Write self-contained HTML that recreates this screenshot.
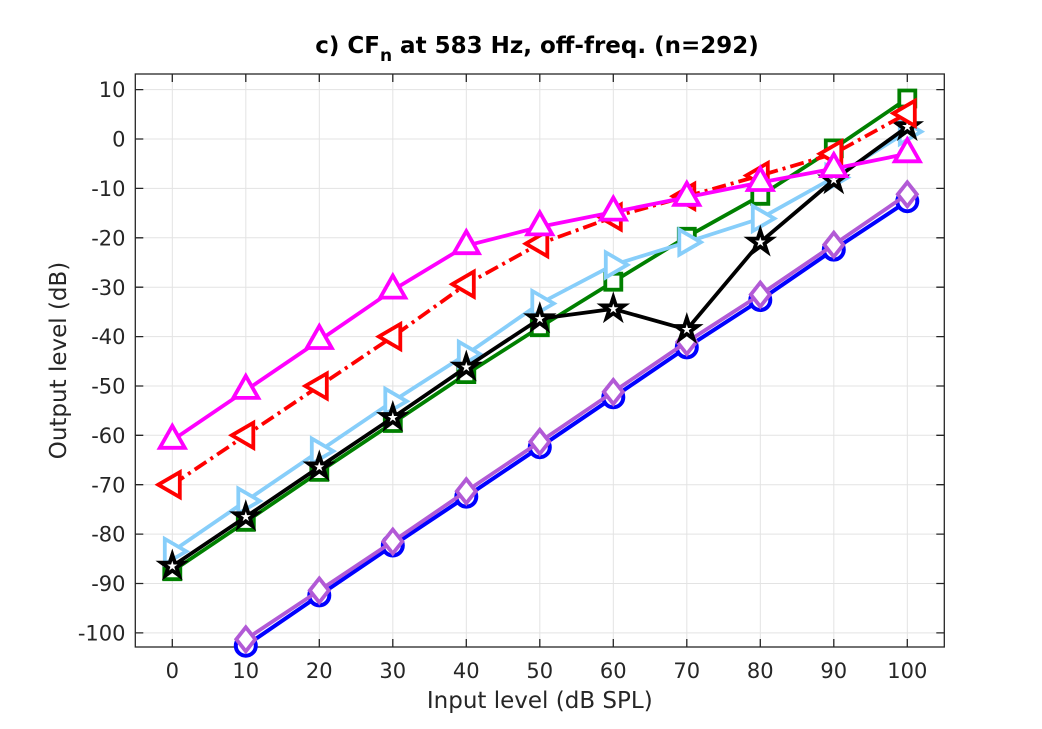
<!DOCTYPE html>
<html>
<head>
<meta charset="utf-8">
<style>
html,body{margin:0;padding:0;background:#fff;}
svg{display:block;}
text{font-family:"DejaVu Sans","Liberation Sans",sans-serif;fill:#262626;}
</style>
</head>
<body>
<svg width="1042" height="729" viewBox="0 0 1042 729" xmlns="http://www.w3.org/2000/svg">
<defs>
  <circle id="mc" r="10" fill="#fff" stroke="#0000ff" stroke-width="4"/>
  <path id="md" d="M0,-12 L9.5,0 L0,12 L-9.5,0Z" fill="#fff" stroke="#b25ad6" stroke-width="3.8"/>
  <path id="ms" d="M-8,-8h16v16h-16z" fill="#fff" stroke="#008000" stroke-width="3.8"/>
  <path id="mr" d="M14,0 L-7.5,-12.5 L-7.5,12.5Z" fill="#fff" stroke="#87cefa" stroke-width="3.8"/>
  <path id="mp" d="M0,-11.5 L2.582,-3.554 L10.937,-3.554 L4.178,1.357 L6.760,9.304 L0,4.393 L-6.760,9.304 L-4.178,1.357 L-10.937,-3.554 L-2.582,-3.554Z" fill="#fff" stroke="#000" stroke-width="3.8"/>
  <path id="ml" d="M-14,0 L7.5,-12.5 L7.5,12.5Z" fill="#fff" stroke="#ff0000" stroke-width="3.8"/>
  <path id="mu" d="M0,-14.5 L12.5,7.5 L-12.5,7.5Z" fill="#fff" stroke="#ff00ff" stroke-width="3.8"/>
</defs>

<!-- grid -->
<g stroke="#e3e3e3" stroke-width="1">
  <line x1="172.3" y1="74" x2="172.3" y2="647"/>
  <line x1="245.8" y1="74" x2="245.8" y2="647"/>
  <line x1="319.3" y1="74" x2="319.3" y2="647"/>
  <line x1="392.8" y1="74" x2="392.8" y2="647"/>
  <line x1="466.3" y1="74" x2="466.3" y2="647"/>
  <line x1="539.8" y1="74" x2="539.8" y2="647"/>
  <line x1="613.3" y1="74" x2="613.3" y2="647"/>
  <line x1="686.8" y1="74" x2="686.8" y2="647"/>
  <line x1="760.3" y1="74" x2="760.3" y2="647"/>
  <line x1="833.8" y1="74" x2="833.8" y2="647"/>
  <line x1="907.3" y1="74" x2="907.3" y2="647"/>
  <line x1="135.3" y1="89.6" x2="944.3" y2="89.6"/>
  <line x1="135.3" y1="139" x2="944.3" y2="139"/>
  <line x1="135.3" y1="188.4" x2="944.3" y2="188.4"/>
  <line x1="135.3" y1="237.8" x2="944.3" y2="237.8"/>
  <line x1="135.3" y1="287.2" x2="944.3" y2="287.2"/>
  <line x1="135.3" y1="336.6" x2="944.3" y2="336.6"/>
  <line x1="135.3" y1="386" x2="944.3" y2="386"/>
  <line x1="135.3" y1="435.3" x2="944.3" y2="435.3"/>
  <line x1="135.3" y1="484.7" x2="944.3" y2="484.7"/>
  <line x1="135.3" y1="534.1" x2="944.3" y2="534.1"/>
  <line x1="135.3" y1="583.5" x2="944.3" y2="583.5"/>
  <line x1="135.3" y1="632.9" x2="944.3" y2="632.9"/>
</g>

<!-- axes box and ticks -->
<g stroke="#262626" stroke-width="1.3" fill="none">
  <rect x="135.3" y="74" width="809" height="573"/>
  <path d="M172.3,647v-8 M245.8,647v-8 M319.3,647v-8 M392.8,647v-8 M466.3,647v-8 M539.8,647v-8 M613.3,647v-8 M686.8,647v-8 M760.3,647v-8 M833.8,647v-8 M907.3,647v-8
           M172.3,74v8 M245.8,74v8 M319.3,74v8 M392.8,74v8 M466.3,74v8 M539.8,74v8 M613.3,74v8 M686.8,74v8 M760.3,74v8 M833.8,74v8 M907.3,74v8
           M135.3,89.6h8 M135.3,139h8 M135.3,188.4h8 M135.3,237.8h8 M135.3,287.2h8 M135.3,336.6h8 M135.3,386h8 M135.3,435.3h8 M135.3,484.7h8 M135.3,534.1h8 M135.3,583.5h8 M135.3,632.9h8
           M944.3,89.6h-8 M944.3,139h-8 M944.3,188.4h-8 M944.3,237.8h-8 M944.3,287.2h-8 M944.3,336.6h-8 M944.3,386h-8 M944.3,435.3h-8 M944.3,484.7h-8 M944.3,534.1h-8 M944.3,583.5h-8 M944.3,632.9h-8"/>
</g>

<!-- tick labels -->
<g font-size="21" text-anchor="middle">
  <text x="172.3" y="678">0</text>
  <text x="245.8" y="678">10</text>
  <text x="319.3" y="678">20</text>
  <text x="392.8" y="678">30</text>
  <text x="466.3" y="678">40</text>
  <text x="539.8" y="678">50</text>
  <text x="613.3" y="678">60</text>
  <text x="686.8" y="678">70</text>
  <text x="760.3" y="678">80</text>
  <text x="833.8" y="678">90</text>
  <text x="907.3" y="678">100</text>
</g>
<g font-size="21" text-anchor="end">
  <text x="125.5" y="97.2">10</text>
  <text x="125.5" y="146.6">0</text>
  <text x="125.5" y="196">-10</text>
  <text x="125.5" y="245.4">-20</text>
  <text x="125.5" y="294.8">-30</text>
  <text x="125.5" y="344.2">-40</text>
  <text x="125.5" y="393.6">-50</text>
  <text x="125.5" y="442.9">-60</text>
  <text x="125.5" y="492.3">-70</text>
  <text x="125.5" y="541.7">-80</text>
  <text x="125.5" y="591.1">-90</text>
  <text x="125.5" y="640.5">-100</text>
</g>

<!-- axis labels -->
<text x="539.8" y="708" font-size="23" text-anchor="middle">Input level (dB SPL)</text>
<text transform="translate(66,360.5) rotate(-90)" font-size="23" text-anchor="middle">Output level (dB)</text>

<!-- title -->
<text x="537" y="53" font-size="23" font-weight="bold" text-anchor="middle" style="fill:#000">c) CF<tspan font-size="17" dy="8">n</tspan><tspan dy="-8"> at 583 Hz, off-freq. (n=292)</tspan></text>

<!-- series: blue circles -->
<polyline fill="none" stroke="#0000ff" stroke-width="4" stroke-linejoin="round"
  points="245.8,645.7 319.3,595.4 392.8,545.5 466.3,496.6 539.8,447.2 613.3,397.3 686.8,347.4 760.3,300 833.8,249.6 907.3,201.2"/>
<use href="#mc" x="245.8" y="645.7"/><use href="#mc" x="319.3" y="595.4"/><use href="#mc" x="392.8" y="545.5"/>
<use href="#mc" x="466.3" y="496.6"/><use href="#mc" x="539.8" y="447.2"/><use href="#mc" x="613.3" y="397.3"/>
<use href="#mc" x="686.8" y="347.4"/><use href="#mc" x="760.3" y="300"/><use href="#mc" x="833.8" y="249.6"/>
<use href="#mc" x="907.3" y="201.2"/>

<!-- purple diamonds -->
<polyline fill="none" stroke="#b25ad6" stroke-width="3.8" stroke-linejoin="round"
  points="245.8,639.3 319.3,590.4 392.8,541.5 466.3,491.2 539.8,441.8 613.3,391.9 686.8,342 760.3,294.6 833.8,244.7 907.3,194.3"/>
<use href="#md" x="245.8" y="639.3"/><use href="#md" x="319.3" y="590.4"/><use href="#md" x="392.8" y="541.5"/>
<use href="#md" x="466.3" y="491.2"/><use href="#md" x="539.8" y="441.8"/><use href="#md" x="613.3" y="391.9"/>
<use href="#md" x="686.8" y="342"/><use href="#md" x="760.3" y="294.6"/><use href="#md" x="833.8" y="244.7"/>
<use href="#md" x="907.3" y="194.3"/>

<!-- green squares -->
<polyline fill="none" stroke="#008000" stroke-width="3.8" stroke-linejoin="round"
  points="172.3,571.2 245.8,521.8 319.3,471.9 392.8,423 466.3,374.1 539.8,327.2 613.3,281.7 686.8,236.8 760.3,195.8 833.8,148.4 907.3,98.5"/>
<use href="#ms" x="172.3" y="571.2"/><use href="#ms" x="245.8" y="521.8"/><use href="#ms" x="319.3" y="471.9"/>
<use href="#ms" x="392.8" y="423"/><use href="#ms" x="466.3" y="374.1"/><use href="#ms" x="539.8" y="327.2"/>
<use href="#ms" x="613.3" y="281.7"/><use href="#ms" x="686.8" y="236.8"/><use href="#ms" x="760.3" y="195.8"/>
<use href="#ms" x="833.8" y="148.4"/><use href="#ms" x="907.3" y="98.5"/>

<!-- light blue right triangles -->
<polyline fill="none" stroke="#87cefa" stroke-width="3.8" stroke-linejoin="round"
  points="172.3,551.4 245.8,501 319.3,451.1 392.8,401.3 466.3,354.3 539.8,303.5 613.3,264.9 686.8,242.2 760.3,218.5 833.8,177.5 907.3,131.6"/>
<use href="#mr" x="172.3" y="551.4"/><use href="#mr" x="245.8" y="501"/><use href="#mr" x="319.3" y="451.1"/>
<use href="#mr" x="392.8" y="401.3"/><use href="#mr" x="466.3" y="354.3"/><use href="#mr" x="539.8" y="303.5"/>
<use href="#mr" x="613.3" y="264.9"/><use href="#mr" x="686.8" y="242.2"/><use href="#mr" x="760.3" y="218.5"/>
<use href="#mr" x="833.8" y="177.5"/><use href="#mr" x="907.3" y="131.6"/>

<!-- black pentagrams -->
<polyline fill="none" stroke="#000" stroke-width="3.8" stroke-linejoin="round"
  points="172.3,566.2 245.8,516.8 319.3,467 392.8,417.6 466.3,367.2 539.8,318.8 613.3,308.9 686.8,329.6 760.3,242.2 833.8,180 907.3,126.7"/>
<use href="#mp" x="172.3" y="566.2"/><use href="#mp" x="245.8" y="516.8"/><use href="#mp" x="319.3" y="467"/>
<use href="#mp" x="392.8" y="417.6"/><use href="#mp" x="466.3" y="367.2"/><use href="#mp" x="539.8" y="318.8"/>
<use href="#mp" x="613.3" y="308.9"/><use href="#mp" x="686.8" y="329.6"/><use href="#mp" x="760.3" y="242.2"/>
<use href="#mp" x="833.8" y="180"/><use href="#mp" x="907.3" y="126.7"/>

<!-- red left triangles, dash-dot -->
<polyline fill="none" stroke="#ff0000" stroke-width="3.8" stroke-dasharray="14 5 3 5"
  points="172.3,484.7 245.8,435.3 319.3,386 392.8,336.6 466.3,284.2 539.8,243.7 613.3,217 686.8,196.3 760.3,175.5 833.8,153.8 907.3,113.3"/>
<use href="#ml" x="172.3" y="484.7"/><use href="#ml" x="245.8" y="435.3"/><use href="#ml" x="319.3" y="386"/>
<use href="#ml" x="392.8" y="336.6"/><use href="#ml" x="466.3" y="284.2"/><use href="#ml" x="539.8" y="243.7"/>
<use href="#ml" x="613.3" y="217"/><use href="#ml" x="686.8" y="196.3"/><use href="#ml" x="760.3" y="175.5"/>
<use href="#ml" x="833.8" y="153.8"/><use href="#ml" x="907.3" y="113.3"/>

<!-- magenta up triangles -->
<polyline fill="none" stroke="#ff00ff" stroke-width="3.8" stroke-linejoin="round"
  points="172.3,440.3 245.8,390.4 319.3,340.5 392.8,290.1 466.3,245.7 539.8,226.9 613.3,212.1 686.8,197.3 760.3,182.5 833.8,168.6 907.3,153.8"/>
<use href="#mu" x="172.3" y="440.3"/><use href="#mu" x="245.8" y="390.4"/><use href="#mu" x="319.3" y="340.5"/>
<use href="#mu" x="392.8" y="290.1"/><use href="#mu" x="466.3" y="245.7"/><use href="#mu" x="539.8" y="226.9"/>
<use href="#mu" x="613.3" y="212.1"/><use href="#mu" x="686.8" y="197.3"/><use href="#mu" x="760.3" y="182.5"/>
<use href="#mu" x="833.8" y="168.6"/><use href="#mu" x="907.3" y="153.8"/>
</svg>
</body>
</html>
